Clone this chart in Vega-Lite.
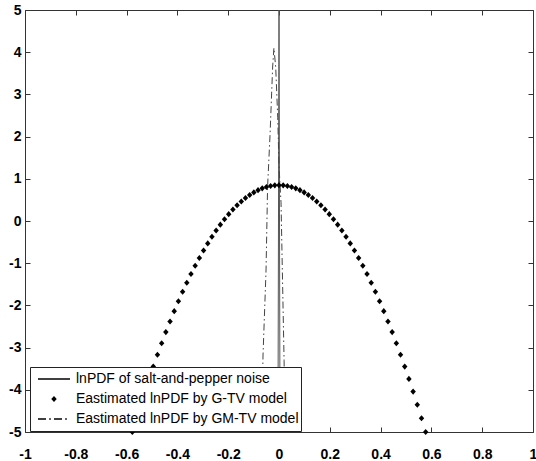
{
  "$schema": "https://vega.github.io/schema/vega-lite/v6.json",
  "width": 508,
  "height": 422,
  "autosize": {"type": "none"},
  "padding": {"left": 25, "top": 10, "right": 3, "bottom": 29},
  "background": "white",
  "config": {
    "view": {"stroke": null},
    "axis": {
      "grid": false,
      "title": null,
      "domainColor": "#333",
      "tickColor": "#333",
      "tickSize": -5,
      "labelFont": "Liberation Sans",
      "labelFontSize": 14,
      "labelFontWeight": "bold",
      "labelColor": "black",
      "labelOverlap": false,
      "labelFlush": false
    }
  },
  "datasets": {
    "noise": [
      {"x": -0.004, "y": -5},
      {"x": 0, "y": 5},
      {"x": 0.004, "y": -5}
    ],
    "gmtv": [
      {"x": -0.068, "y": -5},
      {"x": -0.063, "y": -3.2},
      {"x": -0.051, "y": -1.16},
      {"x": -0.045, "y": 0.8},
      {"x": -0.035, "y": 2.08},
      {"x": -0.025, "y": 3.65},
      {"x": -0.02, "y": 4.1},
      {"x": -0.013, "y": 3.65},
      {"x": -0.005, "y": 2.46},
      {"x": 0.0, "y": 1.3},
      {"x": 0.008, "y": 0.43},
      {"x": 0.02, "y": -3.3},
      {"x": 0.024, "y": -5}
    ],
    "gtv": [
      {"x": -0.5775, "y": -5.0},
      {"x": -0.561, "y": -4.673},
      {"x": -0.5445, "y": -4.353},
      {"x": -0.528, "y": -4.043},
      {"x": -0.5115, "y": -3.742},
      {"x": -0.495, "y": -3.45},
      {"x": -0.4785, "y": -3.168},
      {"x": -0.462, "y": -2.896},
      {"x": -0.4455, "y": -2.633},
      {"x": -0.429, "y": -2.38},
      {"x": -0.4125, "y": -2.136},
      {"x": -0.396, "y": -1.902},
      {"x": -0.3795, "y": -1.678},
      {"x": -0.363, "y": -1.463},
      {"x": -0.3465, "y": -1.257},
      {"x": -0.33, "y": -1.061},
      {"x": -0.3135, "y": -0.875},
      {"x": -0.297, "y": -0.698},
      {"x": -0.2805, "y": -0.531},
      {"x": -0.264, "y": -0.373},
      {"x": -0.2475, "y": -0.225},
      {"x": -0.231, "y": -0.086},
      {"x": -0.2145, "y": 0.043},
      {"x": -0.198, "y": 0.162},
      {"x": -0.1815, "y": 0.272},
      {"x": -0.165, "y": 0.372},
      {"x": -0.1485, "y": 0.463},
      {"x": -0.132, "y": 0.544},
      {"x": -0.1155, "y": 0.616},
      {"x": -0.099, "y": 0.678},
      {"x": -0.0825, "y": 0.731},
      {"x": -0.066, "y": 0.774},
      {"x": -0.0495, "y": 0.807},
      {"x": -0.033, "y": 0.831},
      {"x": -0.0165, "y": 0.845},
      {"x": 0.0, "y": 0.85},
      {"x": 0.0165, "y": 0.845},
      {"x": 0.033, "y": 0.831},
      {"x": 0.0495, "y": 0.807},
      {"x": 0.066, "y": 0.774},
      {"x": 0.0825, "y": 0.731},
      {"x": 0.099, "y": 0.678},
      {"x": 0.1155, "y": 0.616},
      {"x": 0.132, "y": 0.544},
      {"x": 0.1485, "y": 0.463},
      {"x": 0.165, "y": 0.372},
      {"x": 0.1815, "y": 0.272},
      {"x": 0.198, "y": 0.162},
      {"x": 0.2145, "y": 0.043},
      {"x": 0.231, "y": -0.086},
      {"x": 0.2475, "y": -0.225},
      {"x": 0.264, "y": -0.373},
      {"x": 0.2805, "y": -0.531},
      {"x": 0.297, "y": -0.698},
      {"x": 0.3135, "y": -0.875},
      {"x": 0.33, "y": -1.061},
      {"x": 0.3465, "y": -1.257},
      {"x": 0.363, "y": -1.463},
      {"x": 0.3795, "y": -1.678},
      {"x": 0.396, "y": -1.902},
      {"x": 0.4125, "y": -2.136},
      {"x": 0.429, "y": -2.38},
      {"x": 0.4455, "y": -2.633},
      {"x": 0.462, "y": -2.896},
      {"x": 0.4785, "y": -3.168},
      {"x": 0.495, "y": -3.45},
      {"x": 0.5115, "y": -3.742},
      {"x": 0.528, "y": -4.043},
      {"x": 0.5445, "y": -4.353},
      {"x": 0.561, "y": -4.673},
      {"x": 0.5775, "y": -5.0}
    ]
  },
  "layer": [
    {
      "data": {"name": "noise"},
      "mark": {"type": "line", "color": "#555", "strokeWidth": 1},
      "encoding": {
        "x": {
          "field": "x", "type": "quantitative",
          "scale": {"domain": [-1, 1], "nice": false, "zero": false},
          "axis": {
            "orient": "bottom",
            "values": [-1, -0.8, -0.6, -0.4, -0.2, 0, 0.2, 0.4, 0.6, 0.8, 1],
            "format": ".1~f",
            "labelExpr": "replace(datum.label, '\u2212', '-')",
            "labelPadding": 20
          }
        },
        "y": {
          "field": "y", "type": "quantitative",
          "scale": {"domain": [-5, 5], "nice": false, "zero": false},
          "axis": {
            "orient": "left",
            "values": [-5, -4, -3, -2, -1, 0, 1, 2, 3, 4, 5],
            "format": "d",
            "labelExpr": "replace(datum.label, '\u2212', '-')",
            "labelPadding": 9
          }
        }
      }
    },
    {
      "data": {"name": "gmtv"},
      "mark": {"type": "line", "color": "#444", "strokeWidth": 1, "strokeDash": [7, 3, 1.5, 3]},
      "encoding": {
        "x": {
          "field": "x", "type": "quantitative",
          "axis": {
            "orient": "top",
            "values": [-1, -0.8, -0.6, -0.4, -0.2, 0, 0.2, 0.4, 0.6, 0.8, 1],
            "labels": false
          }
        },
        "y": {
          "field": "y", "type": "quantitative",
          "axis": {
            "orient": "right",
            "values": [-5, -4, -3, -2, -1, 0, 1, 2, 3, 4, 5],
            "labels": false
          }
        }
      }
    },
    {
      "data": {"name": "gtv"},
      "mark": {"type": "point", "filled": true, "color": "black", "size": 1024, "opacity": 1},
      "encoding": {
        "x": {"field": "x", "type": "quantitative", "axis": null},
        "y": {"field": "y", "type": "quantitative", "axis": null},
        "shape": {
          "datum": "Eastimated lnPDF by G-TV model",
          "type": "nominal",
          "scale": {
            "domain": [
              "lnPDF of salt-and-pepper noise",
              "Eastimated lnPDF by G-TV model",
              "Eastimated lnPDF by GM-TV model"
            ],
            "range": [
              "M-1,-0.04L1,-0.04L1,0.04L-1,0.04Z",
              "M0,-0.19L0.17,0L0,0.19L-0.17,0Z",
              "M-1,-0.04L-0.5,-0.04L-0.5,0.04L-1,0.04ZM-0.3,-0.04L-0.2,-0.04L-0.2,0.04L-0.3,0.04ZM0,-0.04L0.5,-0.04L0.5,0.04L0,0.04ZM0.7,-0.04L0.8,-0.04L0.8,0.04L0.7,0.04Z"
            ]
          },
          "legend": {
            "orient": "none",
            "legendX": 5,
            "legendY": 357,
            "title": null,
            "padding": 2,
            "clipHeight": 20,
            "rowPadding": 0,
            "symbolSize": 1024,
            "symbolOffset": 5,
            "labelOffset": 5,
            "symbolFillColor": "black",
            "symbolOpacity": 1,
            "labelFont": "Liberation Sans",
            "labelFontSize": 14,
            "labelColor": "black",
            "labelLimit": 0,
            "strokeColor": "#222",
            "fillColor": "white",
            "cornerRadius": 0
          }
        }
      }
    }
  ],
  "resolve": {"axis": {"x": "independent", "y": "independent"}}
}
